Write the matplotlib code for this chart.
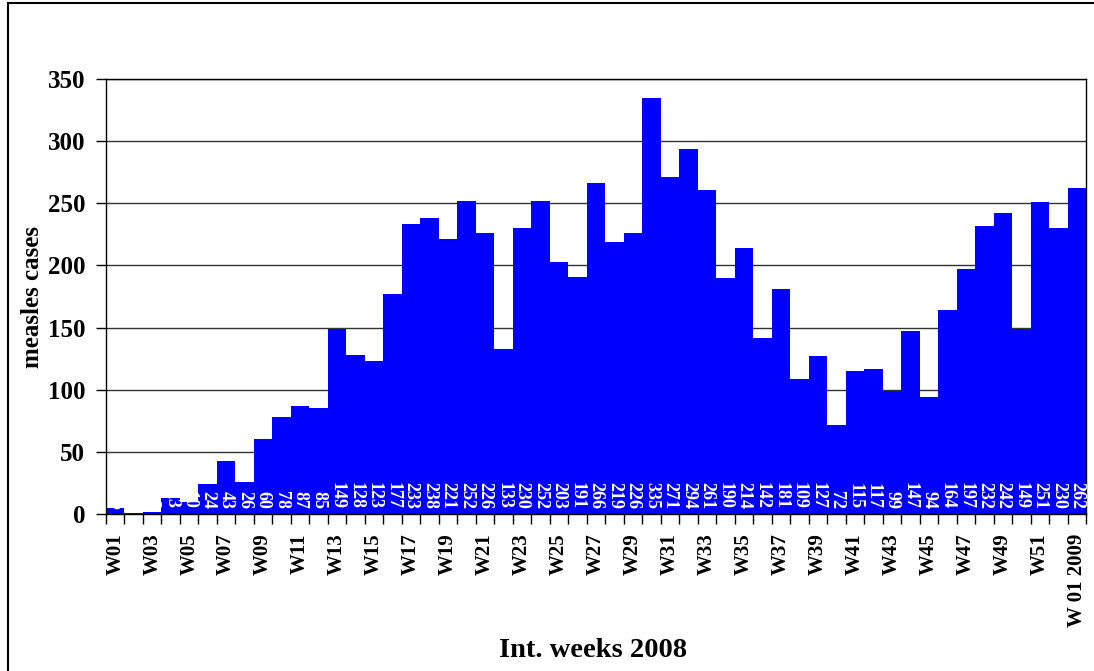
import matplotlib
matplotlib.use("Agg")
import matplotlib.pyplot as plt
from matplotlib.patches import Rectangle
import numpy as np

# weekly measles cases, W01 2008 .. W01 2009
weeks = ["W%02d" % i for i in range(1, 53)] + ["W 01 2009"]
cases = [5, 1, 2, 13, 10, 24, 43, 26, 60, 78,
         87, 85, 149, 128, 123, 177, 233, 238, 221, 252,
         226, 133, 230, 252, 203, 191, 266, 219, 226, 335,
         271, 294, 261, 190, 214, 142, 181, 109, 127, 72,
         115, 117, 99, 147, 94, 164, 197, 232, 242, 149,
         251, 230, 262]
# only every other week gets a label
shown = list(range(0, 51, 2)) + [52]

plt.rcParams['font.family'] = ['Liberation Serif', 'DejaVu Serif']
plt.rcParams['font.weight'] = 'bold'

fig = plt.figure(figsize=(10.94, 6.71), dpi=100)
ax = fig.add_axes([106/1094, 1-514/671, 980/1094, 435/671])

# outer chart frame
fig.patches.append(Rectangle((8/1094, -0.1), 1.2, 1-3/671+0.1, transform=fig.transFigure,
                             fill=False, edgecolor='black', lw=1.5))

x = np.arange(len(cases))
ax.bar(x, cases, width=1.0, color='#0000ff', edgecolor='none', zorder=2)

for xi, v in zip(x, cases):
    ax.text(xi, 4, str(v), rotation=270, ha='center', va='bottom',
            color='white', fontsize=13, fontweight='bold', zorder=3)

ax.set_xlim(-0.5, len(cases) - 0.5)
ax.set_ylim(0, 350)
ax.set_yticks(range(0, 351, 50))
ax.yaxis.grid(True, color='#333333', lw=1)
ax.set_axisbelow(True)
ax.tick_params(axis='y', length=7, width=1, pad=8, labelsize=18)

# ticks at bar boundaries, labels under bar centres
ax.set_xticks(np.arange(-0.5, len(cases), 1.0))
ax.set_xticklabels([])
ax.set_xticks(shown, minor=True)
ax.set_xticklabels([weeks[i] for i in shown], minor=True, rotation=90,
                   fontsize=15, fontweight='bold')
ax.tick_params(axis='x', which='major', length=7, width=1)
ax.tick_params(axis='x', which='minor', length=0, pad=14)

for s in ax.spines.values():
    s.set_linewidth(1.0)

ax.set_ylabel('measles cases', fontsize=18, fontweight='bold', va='center')
ax.yaxis.set_label_coords(-0.0755, 0.5)
ax.set_xlabel('Int. weeks 2008', fontsize=20.5, fontweight='bold', va='center')
ax.xaxis.set_label_coords(0.497, -0.313)

fig.savefig('out.png', dpi=100)
